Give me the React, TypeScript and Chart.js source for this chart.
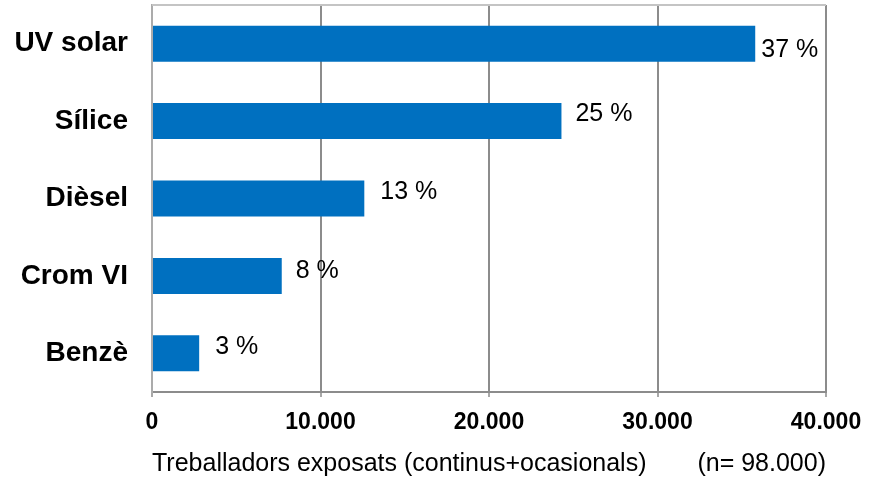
import React, { useEffect, useRef } from "react";
import { Chart, registerables } from "chart.js";

Chart.register(...registerables);

// ---- data ----
const categories = ["UV solar", "Sílice", "Dièsel", "Crom VI", "Benzè"];
const workers = [35800, 24300, 12600, 7700, 2800];
const percentages = [37, 25, 13, 8, 3];
const xTickValues = [0, 10000, 20000, 30000, 40000];
const axisTitle = "Treballadors exposats (continus+ocasionals)";
const sampleNote = "(n= 98.000)";

// ---- style ----
const FAMILY = '"Liberation Sans", Arial, Helvetica, sans-serif';
const BAR_COLOR = "#0070C0";
const GRID_COLOR = "#8c8c8c";
const LIGHT_GRID = "#ababab";
// per-label offsets (dx, dy) from the bar end / centre
const labelOffsets: [number, number][] = [
  [6, 6],
  [14, -7],
  [16, -6],
  [14, -5],
  [16, -6],
];

const fmt = (v: number) =>
  String(Math.round(v)).replace(/\B(?=(\d{3})+(?!\d))/g, ".");

const decorations = {
  id: "decorations",
  beforeDatasetsDraw(chart: any) {
    const { ctx, chartArea } = chart;
    ctx.save();
    ctx.strokeStyle = "#c4c4c4";
    ctx.lineWidth = 2;
    ctx.beginPath();
    ctx.moveTo(chartArea.left, chartArea.top);
    ctx.lineTo(chartArea.right, chartArea.top);
    ctx.stroke();
    ctx.restore();
  },
  afterDatasetsDraw(chart: any) {
    const { ctx } = chart;
    const meta = chart.getDatasetMeta(0);
    ctx.save();
    ctx.font = `25px ${FAMILY}`;
    ctx.fillStyle = "#000";
    ctx.textAlign = "left";
    ctx.textBaseline = "middle";
    meta.data.forEach((el: any, i: number) => {
      const off = labelOffsets[i] || [14, -5];
      ctx.fillText(`${percentages[i]} %`, el.x + off[0], el.y + off[1]);
    });
    ctx.restore();
  },
  afterDraw(chart: any) {
    const { ctx, chartArea, height } = chart;
    ctx.save();
    ctx.font = `25px ${FAMILY}`;
    ctx.fillStyle = "#000";
    ctx.textAlign = "right";
    ctx.textBaseline = "middle";
    ctx.fillText(sampleNote, chartArea.right, height - 2 - 15);
    ctx.restore();
  },
};

export default function App() {
  const ref = useRef<HTMLCanvasElement>(null);

  useEffect(() => {
    if (!ref.current) return;
    const chart = new Chart(ref.current, {
      type: "bar",
      data: {
        labels: categories,
        datasets: [
          {
            data: workers,
            backgroundColor: BAR_COLOR,
            borderWidth: 0,
            categoryPercentage: 1,
            barPercentage: 0.465,
          },
        ],
      },
      options: {
        indexAxis: "y",
        responsive: false,
        animation: false,
        devicePixelRatio: 1,
        layout: { padding: { top: 5, right: 44, left: 0, bottom: 0 } },
        plugins: {
          legend: { display: false },
          tooltip: { enabled: false },
          title: { display: false },
        },
        scales: {
          x: {
            type: "linear",
            min: 0,
            max: 40000,
            afterBuildTicks: (scale: any) => {
              scale.ticks = xTickValues.map((v) => ({ value: v }));
            },
            afterFit: (scale: any) => {
              scale.height = 89;
              scale.paddingLeft = 0;
              scale.paddingRight = 0;
            },
            ticks: {
              callback: (v: any) => fmt(Number(v)),
              font: { family: FAMILY, size: 23, weight: "bold" },
              color: "#000",
              padding: 12,
              maxRotation: 0,
              autoSkip: false,
            },
            grid: {
              color: (c: any) => (c.index === 0 ? LIGHT_GRID : GRID_COLOR),
              lineWidth: 2,
              drawTicks: true,
              tickLength: 5,
              tickColor: "#a8a8a8",
            },
            border: { display: true, color: GRID_COLOR, width: 2 },
            title: {
              display: true,
              text: axisTitle,
              align: "start",
              color: "#000",
              font: { family: FAMILY, size: 25 },
              padding: { top: 0, bottom: 2 },
            },
          },
          y: {
            afterFit: (scale: any) => {
              scale.width = 152;
              scale.paddingTop = 0;
              scale.paddingBottom = 0;
            },
            grid: { display: false, drawTicks: false },
            border: { display: true, color: LIGHT_GRID, width: 2 },
            ticks: {
              font: { family: FAMILY, size: 28, weight: "bold" },
              color: "#000",
              padding: 24,
            },
          },
        },
      },
      plugins: [decorations],
    } as any);
    return () => chart.destroy();
  }, []);

  return (
    <div
      style={{
        position: "absolute",
        left: 0,
        top: 0,
        width: 870,
        height: 481,
        background: "#fff",
      }}
    >
      <canvas
        ref={ref}
        width={870}
        height={481}
        style={{ display: "block", width: 870, height: 481 }}
      />
    </div>
  );
}
